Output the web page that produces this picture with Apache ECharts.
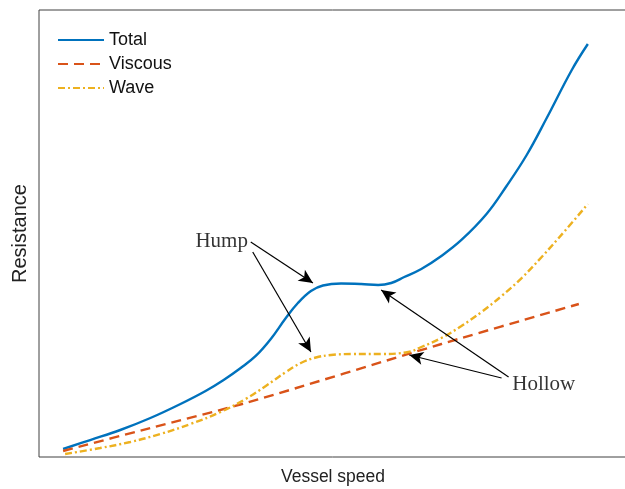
<!DOCTYPE html>
<html>
<head>
<meta charset="utf-8">
<script src="https://cdn.jsdelivr.net/npm/echarts@6/dist/echarts.min.js"></script>
<style>html,body{margin:0;padding:0;background:#fff}#c{width:625px;height:489px}</style>
</head>
<body>
<div id="c"></div>
<script>
// Data (x: vessel speed, y: resistance; arbitrary units 0-100)
const totalData = [[4.10,1.79],[8.70,3.80],[13.82,6.04],[18.94,8.72],[24.06,11.86],[28.33,14.77],[31.40,17.23],[34.30,19.91],[36.86,22.60],[39.42,26.40],[41.98,31.10],[44.03,34.45],[46.25,37.14],[48.29,38.37],[51.37,38.81],[54.78,38.70],[57.68,38.48],[59.90,38.93],[62.12,40.27],[65.02,42.06],[68.43,44.97],[71.84,48.55],[76.11,54.36],[79.52,60.63],[82.94,67.56],[86.35,75.84],[90.61,86.58],[93.34,92.39]];
const viscousData = [[4.10,1.34],[18.94,6.49],[35.15,12.08],[68.43,25.28],[91.81,34.23]];
const waveData = [[4.44,0.67],[10.41,2.01],[15.53,3.36],[20.65,5.15],[25.77,7.38],[30.89,10.07],[35.15,12.98],[38.57,15.88],[41.98,19.02],[44.54,21.03],[47.10,22.26],[49.66,22.82],[53.07,23.04],[58.19,23.04],[62.80,23.49],[65.02,24.61],[68.43,26.62],[71.84,29.31],[75.26,32.44],[78.67,36.02],[82.08,40.04],[85.49,44.74],[89.42,50.56],[93.34,56.60]];
const seriesNames = ['Total','Viscous','Wave'];
const annotationTexts = [{text:'Hump', at:[31.06,48.32]},{text:'Hollow', at:[85.84,16.33]}];
const arrows = [
  [[36.01,48.10],[46.59,38.93]],
  [[36.35,45.86],[46.25,23.49]],
  [[79.86,17.90],[58.19,37.36]],
  [[78.67,17.67],[62.97,22.82]]
];

const chart = echarts.init(document.getElementById('c'));
chart.setOption({
  animation:false,
  backgroundColor:'#fff',
  grid:{left:39, top:10, width:588, height:447, outerBoundsMode:'none', containLabel:false,
    show:true, borderColor:'#404040', borderWidth:1, backgroundColor:'transparent'},
  legend:{
    orient:'vertical', left:57, top:31, padding:0, itemWidth:46, itemHeight:10, itemGap:6,
    itemStyle:{color:'transparent', borderWidth:0, opacity:0},
    textStyle:{fontFamily:'Liberation Sans', fontSize:18, lineHeight:18, color:'#111'},
    data:seriesNames
  },
  xAxis:{type:'value', min:0, max:100, name:'Vessel speed', nameLocation:'middle', nameGap:11,
    nameTextStyle:{fontFamily:'Liberation Sans', fontSize:17.5, color:'#222', verticalAlign:'top'},
    axisLine:{show:false}, axisTick:{show:false}, axisLabel:{show:false}, splitLine:{show:false}},
  yAxis:{type:'value', min:0, max:100, name:'Resistance', nameLocation:'middle', nameGap:9,
    nameTextStyle:{fontFamily:'Liberation Sans', fontSize:20, color:'#222'},
    axisLine:{show:false}, axisTick:{show:false}, axisLabel:{show:false}, splitLine:{show:false}},
  series:[
    {name:seriesNames[0], type:'line', data:totalData, smooth:0.4, symbol:'none', color:'#0072BD',
      lineStyle:{width:2.4, color:'#0072BD'}},
    {name:seriesNames[1], type:'line', data:viscousData, smooth:0.3, symbol:'none', color:'#D95319',
      lineStyle:{width:2.4, color:'#D95319', type:[10,6]}},
    {name:seriesNames[2], type:'line', data:waveData, smooth:0.4, symbol:'none', color:'#EDB120',
      lineStyle:{width:2.4, color:'#EDB120', type:[7,3,2,3]}},
    {name:'annot', type:'scatter', data:annotationTexts.map(a=>({value:a.at, name:a.text})),
      symbolSize:0, silent:true,
      label:{show:true, position:'inside', formatter:p=>p.name, fontFamily:'Liberation Serif', fontSize:21, color:'#000'},
      markLine:{silent:true, symbol:['none','arrow'], symbolSize:[10,14], animation:false,
        lineStyle:{color:'#000', width:1.2, type:'solid'}, label:{show:false},
        data:arrows.map(a=>[{coord:a[0]},{coord:a[1]}])}
    }
  ]
});
</script>
</body>
</html>
